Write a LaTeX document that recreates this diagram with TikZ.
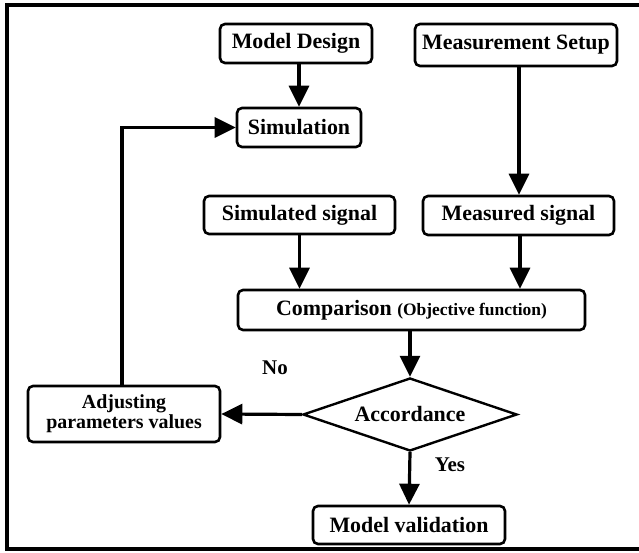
\documentclass[tikz,border=0pt]{standalone}
\usepackage{fontspec}
\setmainfont{Liberation Serif}
\usetikzlibrary{shapes.geometric,arrows.meta,calc}
\begin{document}
\begin{tikzpicture}[x=1bp,y=-1bp,
  box/.style={draw,line width=2.6bp,rounded corners=5bp,inner sep=0pt,
    font=\bfseries\fontsize{22}{24}\selectfont,align=center},
  dia/.style={draw,line width=2.4bp,shape=diamond,aspect=2.93,inner sep=0pt,
    minimum width=214bp,minimum height=73bp,font=\bfseries\fontsize{22}{24}\selectfont},
  arr/.style={line width=3.2bp,-{Triangle[length=21bp,width=20bp]}},
  lbl/.style={font=\bfseries\fontsize{21}{24}\selectfont,inner sep=0pt}]
\useasboundingbox (0,0) rectangle (639,553);
\fill[white] (0,0) rectangle (639,553);
\draw[line width=4bp] (642,5) -- (6.5,5) -- (6.5,549) -- (642,549);

\node[box,minimum width=152bp,minimum height=39bp] (md) at (296,43.5) {Model Design};
\node[box,minimum width=202bp,minimum height=42bp] (ms) at (516,45) {Measurement Setup};
\node[box,minimum width=124bp,minimum height=39bp] (sim) at (299,127.5) {Simulation};
\node[box,minimum width=191bp,minimum height=38bp] (ss) at (299.5,215) {Simulated signal};
\node[box,minimum width=191bp,minimum height=39bp] (mes) at (518.5,215.5) {Measured signal};
\node[box,minimum width=347bp,minimum height=40bp] (comp) at (411.5,310)
  {Comparison {\fontsize{17.5}{20}\selectfont (Objective function)}};
\node[dia] (acc) at (410,414.5) {Accordance};
\node[box,minimum width=192bp,minimum height=56bp,font=\bfseries\fontsize{20}{20}\selectfont] (adj) at (124,414)
  {Adjusting\\parameters values};
\node[box,minimum width=192bp,minimum height=38bp] (mv) at (409,525) {Model validation};
\node[lbl] (no) at (275,368) {No};
\node[lbl] (yes) at (450,465) {Yes};

\draw[arr] (sim.north |- md.south) -- (sim.north);
\draw[arr] (519,0 |- ms.south) -- (519,0 |- mes.north);
\draw[arr] (ss.south) -- (ss.south |- comp.north);
\draw[arr] (520,0 |- mes.south) -- (520,0 |- comp.north);
\draw[arr] (acc.north |- comp.south) -- (acc.north);
\draw[arr] (acc.west) -- (adj.east);
\draw[arr] (acc.south) -- (mv.north);
\draw[arr] (122,0 |- adj.north) -- (122,0 |- sim.west) -- (sim.west);
\end{tikzpicture}
\end{document}
